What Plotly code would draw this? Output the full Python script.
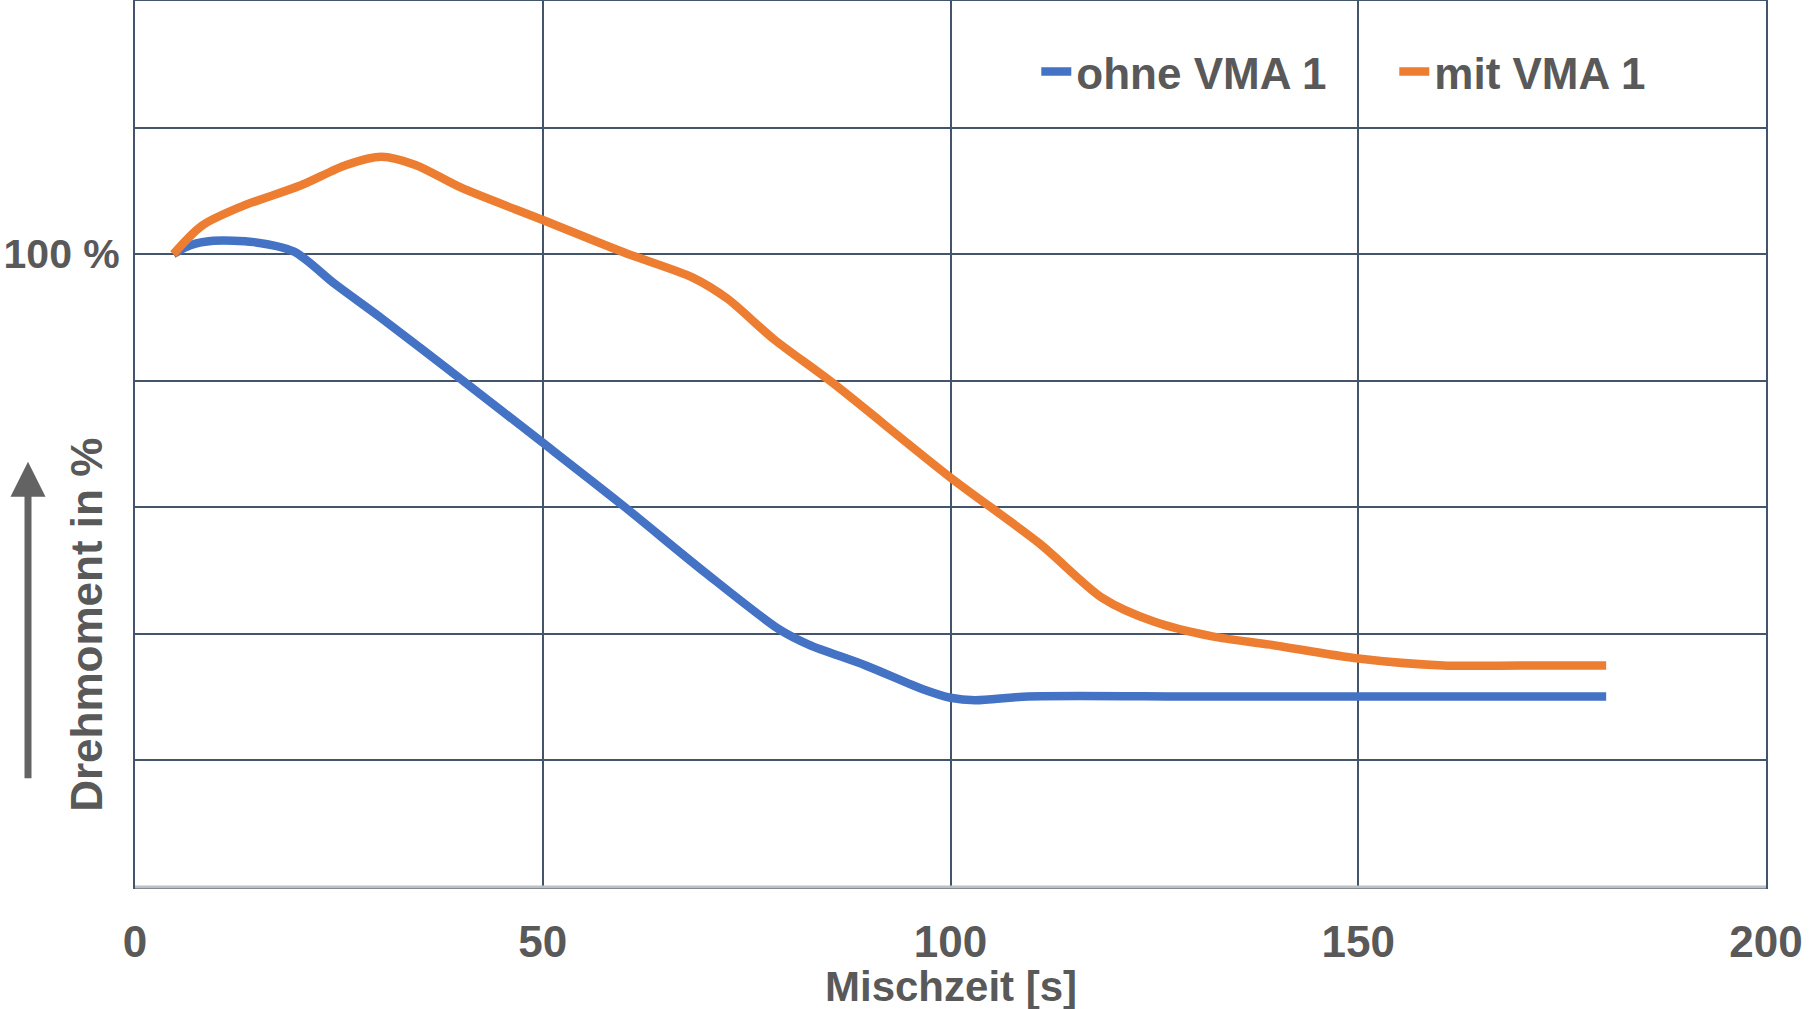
import plotly.graph_objects as go

# Data
time_ohne = [4.7, 6.8, 9.6, 14.6, 19.5, 24.5, 30.2, 40.0, 50.0, 59.9, 69.8, 79.0, 82.6, 89.6, 96.7, 100.0, 103.0, 109.5, 130.0, 150.0, 180.4]
torque_ohne = [100, 101.4, 102.1, 101.9, 100.4, 95.3, 89.9, 80.2, 70.2, 60.2, 49.8, 40.7, 38.3, 35.0, 31.2, 29.9, 29.5, 30.1, 30.1, 30.1, 30.1]

time_mit = [4.7, 8.2, 13.2, 20.2, 25.9, 30.2, 34.4, 40.0, 50.0, 59.9, 68.4, 72.6, 78.3, 85.4, 100.0, 110.9, 118.7, 125.0, 132.1, 139.2, 150.0, 160.4, 170.0, 180.4]
torque_mit = [100, 104.5, 107.6, 110.8, 114.1, 115.4, 114.1, 110.5, 105.4, 100.3, 96.3, 93.0, 86.6, 79.8, 64.7, 54.3, 45.6, 41.9, 39.6, 38.3, 36.1, 35.0, 35.0, 35.0]

series_names = ["ohne VMA 1", "mit VMA 1"]
x_ticks = [0, 50, 100, 150, 200]
y_tickvals = [0, 20, 40, 60, 80, 100, 120, 140]
y_ticktext = ["", "", "", "", "", "100 %", "", ""]

TEXT = "#595959"
GRID = "#44546A"
FONT = "Liberation Sans, Arial, sans-serif"

fig = go.Figure()
fig.add_trace(go.Scatter(x=time_ohne, y=torque_ohne, mode="lines", name=series_names[0],
                         line=dict(color="#4472C4", width=8.5, shape="spline", smoothing=0.8)))
fig.add_trace(go.Scatter(x=time_mit, y=torque_mit, mode="lines", name=series_names[1],
                         line=dict(color="#ED7D31", width=8.5, shape="spline", smoothing=0.8)))

fig.update_layout(
    width=1811, height=1009,
    margin=dict(l=135, r=45, t=1, b=122),
    paper_bgcolor="white", plot_bgcolor="white",
    font=dict(family=FONT, color=TEXT, size=44, weight=700),
    showlegend=True,
    legend=dict(orientation="h", x=0.9916, xanchor="right", y=0.920, yanchor="middle",
                font=dict(family=FONT, size=44, color=TEXT, weight=700),
                bgcolor="rgba(0,0,0,0)", tracegroupgap=0, entrywidth=313),
    xaxis=dict(range=[0, 200], tickvals=x_ticks, showgrid=True, gridcolor=GRID, gridwidth=2,
               zeroline=False, showline=True, linecolor=GRID, linewidth=2, mirror=True,
               ticks="", ticklabelstandoff=15, automargin=False,
               tickfont=dict(family=FONT, size=44, color=TEXT, weight=700)),
    yaxis=dict(range=[0, 140], tickvals=y_tickvals, ticktext=y_ticktext, showgrid=True,
               gridcolor=GRID, gridwidth=2, zeroline=False, showline=True, linecolor=GRID,
               linewidth=2, mirror=True, ticks="", ticklabelstandoff=5, automargin=False,
               tickfont=dict(family=FONT, size=41, color=TEXT, weight=700)),
)

# light grey bottom axis line
fig.add_shape(type="line", xref="paper", yref="paper", x0=0, x1=1, y0=0, y1=0,
              line=dict(color="#BFBFBF", width=3), layer="above")

# x-axis title
fig.add_annotation(xref="paper", yref="paper", x=0.5, y=-0.112, text="Mischzeit [s]",
                   showarrow=False, xanchor="center", yanchor="middle",
                   font=dict(family=FONT, size=42, color=TEXT, weight=700))

# y-axis title placed as in the reference (off-centre) with an upward arrow
fig.add_annotation(xref="paper", yref="paper", x=-0.0294, y=0.296, text="Drehmoment in %",
                   textangle=-90, showarrow=False, xanchor="center", yanchor="middle",
                   font=dict(family=FONT, size=44, color=TEXT, weight=700))
fig.add_annotation(xref="paper", yref="paper", x=-0.0656, y=0.48, ax=0, ay=318,
                   axref="pixel", ayref="pixel", text="", showarrow=True,
                   arrowhead=2, arrowsize=1.0, arrowwidth=7, arrowcolor="#636363")

fig.write_html("out.html", config={"displayModeBar": False},
               post_script="document.body.style.margin='0';document.body.style.padding='0';")
